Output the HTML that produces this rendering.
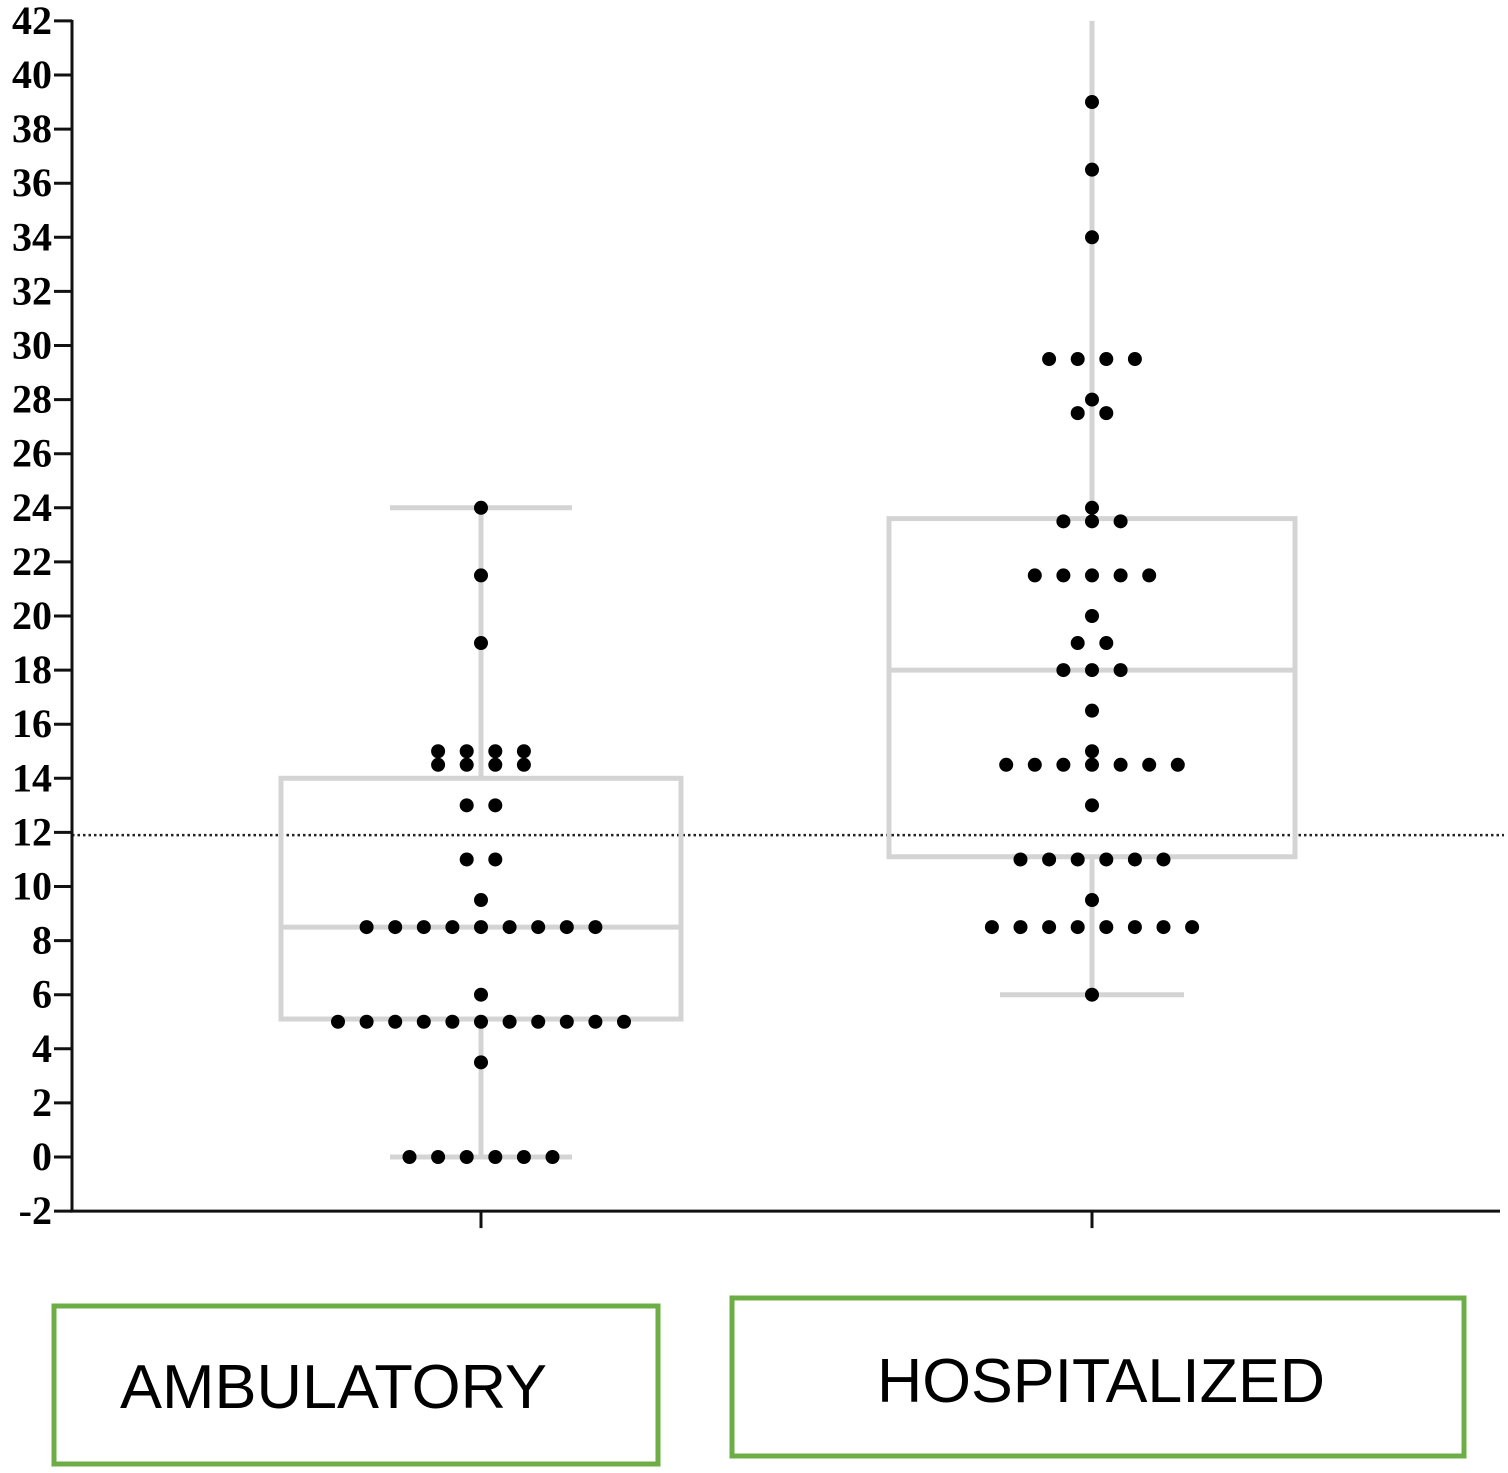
<!DOCTYPE html>
<html><head><meta charset="utf-8"><style>
html,body{margin:0;padding:0;background:#fff;}
svg{display:block;}
</style></head><body>
<svg id="chart" width="1508" height="1473" viewBox="0 0 1508 1473" xmlns="http://www.w3.org/2000/svg">
<g id="plot"></g>
<rect x="54" y="1306" width="604" height="158" fill="none" stroke="#6cad46" stroke-width="5"/>
<text x="120" y="1408" font-family="Liberation Sans, sans-serif" font-size="62" textLength="427" lengthAdjust="spacingAndGlyphs" fill="#000">AMBULATORY</text>
<rect x="732" y="1298" width="732" height="158" fill="none" stroke="#6cad46" stroke-width="5"/>
<text x="877" y="1402" font-family="Liberation Sans, sans-serif" font-size="62" textLength="448" lengthAdjust="spacingAndGlyphs" fill="#000">HOSPITALIZED</text>
</svg>
<script>
const yTicks = [-2,0,2,4,6,8,10,12,14,16,18,20,22,24,26,28,30,32,34,36,38,40,42];
const categories = ["ambulatory","hospitalized"];
const ambValues = [0,0,0,0,0,0,3.5,5,5,5,5,5,5,5,5,5,5,5,6,8.5,8.5,8.5,8.5,8.5,8.5,8.5,8.5,8.5,9.5,11,11,13,13,14.5,14.5,14.5,14.5,15,15,15,15,19,21.5,24];
const hospValues = [6,8.5,8.5,8.5,8.5,8.5,8.5,8.5,8.5,9.5,11,11,11,11,11,11,13,14.5,14.5,14.5,14.5,14.5,14.5,14.5,15,16.5,18,18,18,19,19,20,21.5,21.5,21.5,21.5,21.5,23.5,23.5,23.5,24,27.5,27.5,28,29.5,29.5,29.5,29.5,34,36.5,39];
// box stats: [whiskerLow, q1, median, q3, whiskerHigh]
const ambBox = [0,5.1,8.5,14,24];
const hospBox = [6,11.1,18,23.6,42];
const refLine = 11.9;

const NS="http://www.w3.org/2000/svg";
const plot=document.getElementById('plot');
const y0=1157, unit=27.05;
const Y=v=>y0-v*unit;
const X={ambulatory:481, hospitalized:1092};
function mk(tag,attrs,parent){const e=document.createElementNS(NS,tag);for(const k in attrs)e.setAttribute(k,attrs[k]);(parent||plot).appendChild(e);return e;}

let rl=mk('line',{x1:72,x2:1504,y1:Y(refLine),y2:Y(refLine),stroke:'#222','stroke-width':2.5,'stroke-dasharray':'2.5,3'});



function drawBox(cat,b,halfW,capW,topCap){
  const cx=X[cat];const g=mk('g',{});
  
  
  const st={stroke:'#d4d4d4','stroke-width':5,fill:'none'};
  mk('line',Object.assign({x1:cx,x2:cx,y1:Y(b[0]),y2:Y(b[1])},st),g);
  mk('line',Object.assign({x1:cx,x2:cx,y1:Y(b[3]),y2:Y(b[4])},st),g);
  mk('rect',Object.assign({x:cx-halfW,y:Y(b[3]),width:halfW*2,height:Y(b[1])-Y(b[3])},st),g);
  mk('line',Object.assign({x1:cx-halfW,x2:cx+halfW,y1:Y(b[2]),y2:Y(b[2])},st),g);
  mk('line',Object.assign({x1:cx-capW,x2:cx+capW,y1:Y(b[0]),y2:Y(b[0])},st),g);
  if(topCap) mk('line',Object.assign({x1:cx-capW,x2:cx+capW,y1:Y(b[4]),y2:Y(b[4])},st),g);
}
drawBox('ambulatory',ambBox,200,91,true);
drawBox('hospitalized',hospBox,203,92,false);

function drawDots(cat,vals){
  const groups={};vals.forEach(v=>{groups[v]=(groups[v]||0)+1;});
  for(const k in groups){
    const n=groups[k];const v=parseFloat(k);
    for(let i=0;i<n;i++){
      const c=mk('circle',{cx:X[cat]+(i-(n-1)/2)*28.6,cy:Y(v),r:7,fill:'#000'});
      
      
    }
  }
}
drawDots('ambulatory',ambValues);
drawDots('hospitalized',hospValues);

let ya=mk('line',{x1:72,x2:72,y1:Y(42)-1,y2:Y(-2)+1,stroke:'#111','stroke-width':3});


let xa=mk('line',{x1:70,x2:1500,y1:Y(-2),y2:Y(-2),stroke:'#111','stroke-width':3});


yTicks.forEach(t=>{
  mk('line',{x1:54,x2:72,y1:Y(t),y2:Y(t),stroke:'#111','stroke-width':3});
  const tx=mk('text',{x:52,y:Y(t)+13,'text-anchor':'end','font-family':'Liberation Serif, serif','font-weight':'bold','font-size':40,fill:'#000'});
  tx.textContent=t;
  
  
});
categories.forEach(c=>{
  const t=mk('line',{x1:X[c],x2:X[c],y1:Y(-2),y2:Y(-2)+17,stroke:'#111','stroke-width':3});
  
  
});
</script>
</body></html>
